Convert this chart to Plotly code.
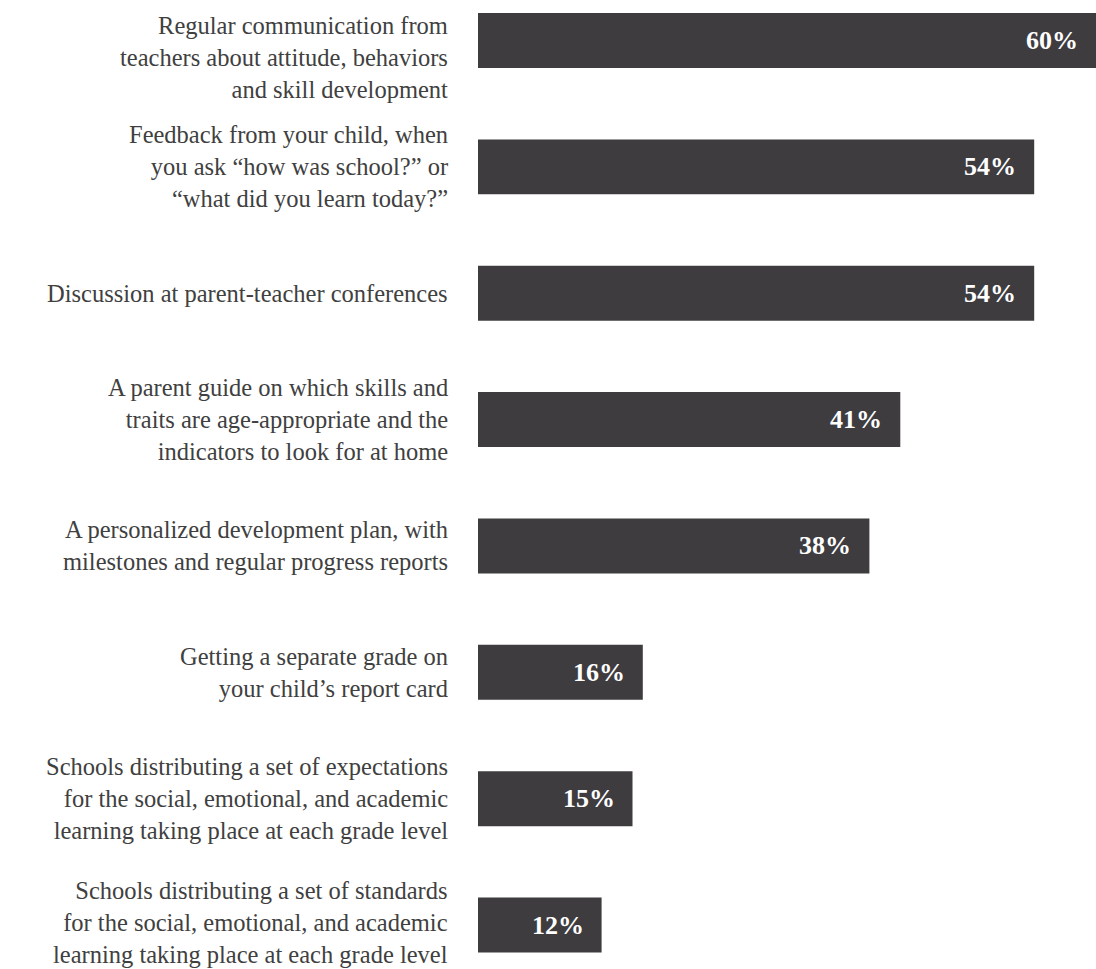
import plotly.graph_objects as go

categories = [
    "Regular communication from<br>teachers about attitude, behaviors<br>and skill development",
    "Feedback from your child, when<br>you ask \u201chow was school?\u201d or<br>\u201cwhat did you learn today?\u201d",
    "Discussion at parent-teacher conferences",
    "A parent guide on which skills and<br>traits are age-appropriate and the<br>indicators to look for at home",
    "A personalized development plan, with<br>milestones and regular progress reports",
    "Getting a separate grade on<br>your child\u2019s report card",
    "Schools distributing a set of expectations<br>for the social, emotional, and academic<br>learning taking place at each grade level",
    "Schools distributing a set of standards<br>for the social, emotional, and academic<br>learning taking place at each grade level",
]
values = [60, 54, 54, 41, 38, 16, 15, 12]
value_labels = ["60%", "54%", "54%", "41%", "38%", "16%", "15%", "12%"]
label_yshift = [-17, 0, 0, 0, 0, 0, 0, 3]

BAR = "#3e3c3f"
TXT = "#404040"

fig = go.Figure(go.Bar(
    x=values, y=categories, orientation="h",
    marker=dict(color=BAR, line=dict(width=0)),
    hoverinfo="skip",
))

for v, c, t in zip(values, categories, value_labels):
    fig.add_annotation(
        x=v, y=c, text="<b>%s</b>" % t, showarrow=False,
        xanchor="right", yanchor="middle", xshift=-16,
        font=dict(family="Liberation Serif", size=26, color="white"),
    )

for c, ys in zip(categories, label_yshift):
    fig.add_annotation(
        x=0, y=c, text=c, showarrow=False,
        xanchor="right", yanchor="middle", align="right",
        xshift=-28, yshift=ys,
        font=dict(family="Liberation Serif", size=24.5, color=TXT),
    )

fig.update_layout(
    width=1096, height=969,
    margin=dict(l=478, r=0, t=0, b=0, autoexpand=False),
    paper_bgcolor="white", plot_bgcolor="white",
    bargap=0.565,
    showlegend=False,
    font=dict(family="Liberation Serif", color=TXT),
)
fig.update_xaxes(range=[0, 60], visible=False, showgrid=False, zeroline=False,
                 automargin=False)
fig.update_yaxes(
    type="category", range=[7.348, -0.3207], automargin=False,
    showgrid=False, zeroline=False, showline=False, ticks="",
    showticklabels=False,
)

fig.write_html("out.html")
